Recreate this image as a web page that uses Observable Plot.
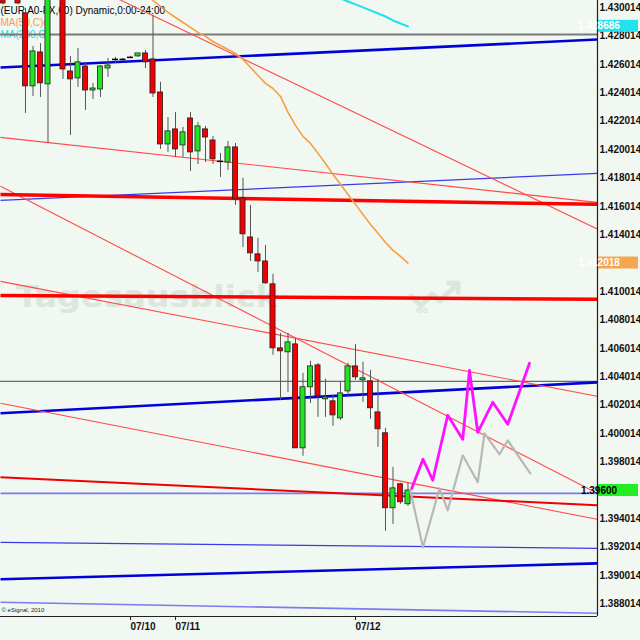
<!DOCTYPE html>
<html><head><meta charset="utf-8">
<script src="https://cdn.jsdelivr.net/npm/d3@7"></script>
<script src="https://cdn.jsdelivr.net/npm/@observablehq/plot@0.6"></script>
<style>
html,body{margin:0;padding:0;background:#f1f7f1;}
#chart{position:relative;width:640px;height:640px;overflow:hidden;}
</style></head><body><div id="chart"></div>
<script>
// ---- hourly EUR/USD candles (bar index, price) ----
const barIndex = [-3,-1,0,1,2,3,5,6,7,8,9,10,11,12,13,14,15,16,17,18,19,20,21,22,23,24,25,26,27,28,29,30,31,32,33,34,35,36,37,38,39,40,41,42,43,44,45,46,47,48,49,50,51];
const barOpen  = [1.4319,1.4318,1.42960,1.42446,1.42685,1.42460,1.43121,1.42551,1.42502,1.42586,1.42417,1.42424,1.42572,1.42636,1.42636,1.42650,1.42657,1.42678,1.42636,1.42403,1.42037,1.42143,1.42030,1.42220,1.41988,1.42143,1.42065,1.41918,1.41910,1.42016,1.41657,1.41382,1.41263,1.41213,1.41052,1.40601,1.40573,1.40629,1.39897,1.40327,1.40481,1.40242,1.40228,1.40108,1.40298,1.40474,1.40376,1.40369,1.40150,1.40003,1.39475,1.39644,1.39503];
const barHigh  = [1.4322,1.4320,1.42995,1.42727,1.42748,1.43157,1.43157,1.42657,1.42713,1.42615,1.42467,1.42593,1.42643,1.42650,1.42643,1.42657,1.42678,1.42699,1.42945,1.42474,1.42227,1.42262,1.42157,1.42262,1.42192,1.42164,1.42094,1.41974,1.42058,1.42044,1.41798,1.41608,1.41376,1.41326,1.41122,1.40707,1.40707,1.40671,1.40425,1.40510,1.40495,1.40383,1.40270,1.40362,1.40496,1.40629,1.40503,1.40446,1.40383,1.40038,1.39763,1.39651,1.39651];
const barLow   = [1.4302,1.4302,1.42256,1.42375,1.42368,1.42044,1.42495,1.42101,1.42439,1.42277,1.42354,1.42368,1.42509,1.42608,1.42629,1.42643,1.42650,1.42572,1.42368,1.42002,1.41981,1.41946,1.41946,1.41847,1.41896,1.41910,1.41896,1.41805,1.41854,1.41608,1.41312,1.41213,1.41136,1.41052,1.40552,1.40235,1.40291,1.39897,1.39841,1.40213,1.40115,1.40115,1.40052,1.40094,1.40256,1.40376,1.40221,1.40101,1.39904,1.39313,1.39362,1.39503,1.39489];
const barClose = [1.4303,1.4303,1.42446,1.42692,1.42467,1.43121,1.42565,1.42495,1.42615,1.42417,1.42431,1.42586,1.42593,1.42636,1.42636,1.42650,1.42678,1.42615,1.42396,1.42037,1.42129,1.42002,1.42122,1.41981,1.42164,1.42086,1.41932,1.41918,1.42016,1.41650,1.41404,1.41270,1.41213,1.41059,1.40601,1.40580,1.40643,1.39897,1.40327,1.40474,1.40263,1.40256,1.40129,1.40284,1.40474,1.40397,1.40390,1.40179,1.40031,1.39475,1.39615,1.39517,1.39600];

// ---- moving averages ----
const ma50Index = [16,17,18,19,20,21,22,23,24,25,26,27,28,29,30,31,32,33,34,35,36,37,38,39,40,41,42,43,44,45,46,47,48,49,50,51];
const ma50Value = [1.43100,1.43051,1.43009,1.42967,1.42931,1.42896,1.42861,1.42826,1.42798,1.42762,1.42734,1.42706,1.42678,1.42636,1.42579,1.42523,1.42467,1.42431,1.42375,1.42263,1.42171,1.42094,1.42044,1.41974,1.41903,1.41826,1.41756,1.41685,1.41615,1.41544,1.41474,1.41411,1.41347,1.41291,1.41249,1.412018];
const ma200Index = [42,43,44,45,46,47,48,49,50,51];
const ma200Value = [1.43065,1.43044,1.43023,1.43002,1.42981,1.42959,1.42938,1.42910,1.42889,1.428686];

// ---- hand-drawn projections ----
const projUpIndex = [51.5,53,54.3,56.3,58.3,59.2,60.3,62.3,64.3,67.2];
const projUpValue = [1.39615,1.39820,1.39672,1.40130,1.39960,1.40446,1.40010,1.40221,1.40066,1.40496];
const projAltIndex = [51.3,53,55.2,56.3,58.3,60.3,61.2,63.2,64.3,67.3];
const projAltValue = [1.39601,1.39200,1.39615,1.39461,1.39848,1.39658,1.40003,1.39855,1.39953,1.39721];

// ---- trend lines: price at left and right edge of the window ----
const thinRedLeft   = [1.43460,1.42087,1.41742,1.41073,1.40214];
const thinRedRight  = [1.41440,1.41629,1.39580,1.40263,1.39397];
const thickRedLeft  = [1.41685,1.40974];
const thickRedRight = [1.41615,1.40946];
const midRedLeft    = [1.39693];
const midRedRight   = [1.39496];
const boldBlueLeft  = [1.42579,1.40144,1.38975];
const boldBlueRight = [1.42776,1.40362,1.39087];
const thinBlueLeft  = [1.41643,1.39235];
const thinBlueRight = [1.41833,1.39193];
const paleBlueLeft  = [1.39580,1.38813];
const paleBlueRight = [1.39580,1.38736];
const grayLevelHigh = [1.42812];
const grayLevelLow  = [1.40369];

// ---- axes ----
const priceTicks = [1.388014,1.390014,1.392014,1.394014,1.396014,1.398014,1.400014,1.402014,1.404014,1.406014,1.408014,1.410014,1.412014,1.414014,1.416014,1.418014,1.420014,1.422014,1.424014,1.426014,1.428014,1.430014];
const dateTicks = [14,20,44];
const dateLabels = ["07/10","07/11","07/12"];
const windowStart = -3.333, windowEnd = 76.267;
const priceMin = 1.387127, priceMax = 1.430507;
const headerLines = ["(EUR A0-FX,60) Dynamic,0:00-24:00","MA(50,C)e","MA(200,C)"];

const candles = barIndex.map((i,k)=>({i, open:barOpen[k], high:barHigh[k], low:barLow[k], close:barClose[k]}));
const bodies = candles.filter(d=>d.open!==d.close);
const dojis = candles.filter(d=>d.open===d.close);
const seg = (L,R)=>L.map((p,k)=>({x1:windowStart,y1:p,x2:windowEnd,y2:R[k]}));
const ma50 = ma50Index.map((i,k)=>({i,v:ma50Value[k]}));
const ma200 = ma200Index.map((i,k)=>({i,v:ma200Value[k]}));
const projUp = projUpIndex.map((i,k)=>({i,v:projUpValue[k]}));
const projAlt = projAltIndex.map((i,k)=>({i,v:projAltValue[k]}));

// current-value boxes on the price axis (they hide the tick label beneath)
const boxes = [
  {v:ma200Value[ma200Value.length-1], fill:"#1fe3ef", color:"#fff", label:ma200Value[ma200Value.length-1].toFixed(6)},
  {v:ma50Value[ma50Value.length-1], fill:"#f4a650", color:"#fff", label:ma50Value[ma50Value.length-1].toFixed(6)},
  {v:barClose[barClose.length-1], fill:"#22ee22", color:"#000", label:barClose[barClose.length-1].toFixed(5)}
];
const shownTicks = priceTicks.filter(t=>boxes.every(b=>Math.abs(b.v-t)>0.0005));

const RED="#f00000", GREEN="#22e422";
const linkOpts = (stroke,w)=>({x1:"x1",y1:"y1",x2:"x2",y2:"y2",stroke,strokeWidth:w,clip:true});

const chart = Plot.plot({
  width:640, height:640,
  marginLeft:0, marginRight:43, marginTop:0, marginBottom:24,
  style:{background:"#f1f7f1", fontFamily:"'Liberation Sans', Arial, sans-serif", fontSize:"10px", overflow:"visible"},
  x:{domain:[windowStart,windowEnd]},
  y:{domain:[priceMin,priceMax]},
  marks:[
    Plot.text([headerLines[0]],{frameAnchor:"top-left",text:d=>d,dy:6,dx:0,textAnchor:"start",fontSize:10,fill:"#000"}),
    Plot.text([headerLines[1]],{frameAnchor:"top-left",text:d=>d,dy:18,textAnchor:"start",fontSize:10,fill:"#f4a04a"}),
    Plot.text([headerLines[2]],{frameAnchor:"top-left",text:d=>d,dy:30,textAnchor:"start",fontSize:10,fill:"#18dde8"}),
    Plot.ruleY(grayLevelHigh,{stroke:"#7a7a7a",strokeWidth:2}),
    Plot.ruleY(grayLevelLow,{stroke:"#6a6a6a",strokeWidth:1.3}),
    Plot.link(seg(paleBlueLeft,paleBlueRight),linkOpts("#7c7cf0",1.6)),
    Plot.link(seg(thinBlueLeft,thinBlueRight),linkOpts("#3a3ae8",1.3)),
    Plot.link(seg(boldBlueLeft,boldBlueRight),linkOpts("#0000d8",2.6)),
    Plot.link(seg(thinRedLeft,thinRedRight),linkOpts("#ff4a4a",1.1)),
    Plot.link(seg(midRedLeft,midRedRight),linkOpts("#ee0000",2)),
    Plot.link(seg(thickRedLeft,thickRedRight),linkOpts("#ff0000",3.5)),
    Plot.line(ma50,{x:"i",y:"v",stroke:"#f5a040",strokeWidth:1.6,clip:true}),
    Plot.line(ma200,{x:"i",y:"v",stroke:"#20e0ea",strokeWidth:2,clip:true}),
    Plot.ruleX(candles,{x:"i",y1:"low",y2:"high",stroke:"#555",strokeWidth:1,clip:true}),
    Plot.rect(bodies,{x1:d=>d.i-0.34,x2:d=>d.i+0.34,y1:"open",y2:"close",fill:d=>d.close>d.open?GREEN:RED,stroke:"#202020",strokeWidth:0.8,clip:true}),
    Plot.ruleY(dojis,{y:"close",x1:d=>d.i-0.4,x2:d=>d.i+0.4,stroke:"#000",strokeWidth:1.5,clip:true}),
    Plot.line(projAlt,{x:"i",y:"v",stroke:"#b8b8b8",strokeWidth:2.2}),
    Plot.line(projUp,{x:"i",y:"v",stroke:"#ff10ff",strokeWidth:2.8}),
    Plot.ruleY([priceMin],{stroke:"#222",strokeWidth:1.2}),
    Plot.ruleX([windowEnd],{stroke:"#222",strokeWidth:1.2}),
    Plot.axisY(shownTicks,{anchor:"right",tickSize:0,tickPadding:2,tickFormat:d=>d.toFixed(6),fontWeight:"bold",fontSize:10,fill:"#111"}),
    Plot.axisX(dateTicks,{anchor:"bottom",tickSize:4,tickPadding:2,tickFormat:d=>dateLabels[dateTicks.indexOf(d)],textAnchor:"start",dx:0,fontWeight:"bold",fontSize:10,fill:"#111",stroke:"#222"}),
    Plot.text(["\u00a9 eSignal, 2010"],{frameAnchor:"bottom-left",text:d=>d,dx:1,dy:-5,textAnchor:"start",fontSize:6,fill:"#222"})
  ]
});
document.getElementById("chart").appendChild(chart);

// watermark, inserted behind everything
const svg = d3.select(chart);
const wm = svg.insert("g", ":first-child").attr("fill","#dce7dc").attr("stroke","none");
wm.append("text").attr("x",147).attr("y",307).attr("font-family","'DejaVu Sans', sans-serif")
  .attr("font-weight","bold").attr("font-size",30).attr("textLength",262).attr("lengthAdjust","spacingAndGlyphs").text("Tagesausblick");
wm.append("text").attr("x",422).attr("y",313).attr("font-family","'DejaVu Sans', sans-serif")
  .attr("font-weight","bold").attr("font-size",9).text("de");
wm.append("path").attr("d","M411,296 L421,306 L432,294 L440,301 L457,284 M449,283 L458,283 L458,292")
  .attr("fill","none").attr("stroke","#dce7dc").attr("stroke-width",5).attr("stroke-linejoin","round").attr("stroke-linecap","round");

const yScale = chart.scale("y");
const bx = svg.append("g");
for (const b of boxes) {
  const yy = yScale.apply(b.v);
  bx.append("rect").attr("x",598).attr("y",yy-6).attr("width",40).attr("height",12).attr("fill",b.fill);
  bx.append("text").attr("x",599).attr("y",yy).attr("dy","0.35em").attr("font-size",10).attr("font-weight","bold")
    .attr("font-family","'Liberation Sans', Arial, sans-serif").attr("fill",b.color).text(b.label);
}
</script></body></html>
